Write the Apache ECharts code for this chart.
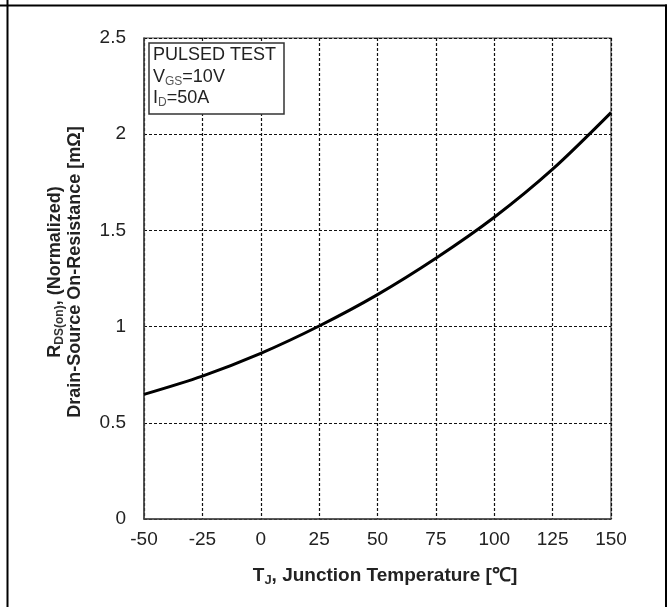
<!DOCTYPE html>
<html>
<head>
<meta charset="utf-8">
<script src="https://cdn.jsdelivr.net/npm/echarts@6/dist/echarts.min.js"></script>
<style>
html,body{margin:0;padding:0;background:#fff;}
#c{width:670px;height:607px;}
</style>
</head>
<body>
<div id="c"></div>
<script>
var temps = [-50, -25, 0, 25, 50, 75, 100, 125, 150];
var rdsNorm = [0.648, 0.743, 0.861, 1.003, 1.166, 1.355, 1.568, 1.818, 2.112];
var xTicks = [-50, -25, 0, 25, 50, 75, 100, 125, 150];
var yTicks = [0, 0.5, 1, 1.5, 2, 2.5];
var noteLines = ['PULSED TEST', 'V{sub|GS}=10V', 'I{sub|D}=50A'];

var FONT = '"Liberation Sans", Arial, sans-serif';
var chart = echarts.init(document.getElementById('c'), null, {renderer: 'canvas'});
var data = temps.map(function (t, i) { return [t, rdsNorm[i]]; });

var option = {
  backgroundColor: '#fff',
  animation: false,
  grid: {left: 144, right: 59, top: 38, bottom: 88, show: true, borderColor: '#444', borderWidth: 1.2, backgroundColor: 'transparent'},
  xAxis: {
    type: 'value', min: xTicks[0], max: xTicks[xTicks.length - 1], interval: 25,
    axisLine: {show: true, onZero: false, lineStyle: {color: '#444', width: 1.5}},
    axisTick: {show: false},
    axisLabel: {color: '#222', fontSize: 19, fontFamily: FONT, margin: 11},
    splitLine: {show: true, lineStyle: {color: '#111', width: 1.2, type: [3, 2]}}
  },
  yAxis: {
    type: 'value', min: yTicks[0], max: yTicks[yTicks.length - 1], interval: 0.5,
    axisLine: {show: true, onZero: false, lineStyle: {color: '#444', width: 1.5}},
    axisTick: {show: false},
    axisLabel: {color: '#222', fontSize: 19, fontFamily: FONT, margin: 18,
      formatter: function (v) { return String(v); }},
    splitLine: {show: true, lineStyle: {color: '#111', width: 1.2, type: [3, 2]}}
  },
  series: [{
    type: 'line', data: data, smooth: 0.3, symbol: 'none',
    lineStyle: {color: '#000', width: 3}, z: 5
  }],
  graphic: [
    {type: 'rect', shape: {x: 149, y: 43, width: 135, height: 71}, style: {fill: '#fff', stroke: '#333', lineWidth: 1.5}, z: 10},
    {type: 'text', x: 153, y: 55, z: 11, style: {text: noteLines[0], font: '18px ' + FONT, fill: '#222', textVerticalAlign: 'middle'}},
    {type: 'text', x: 153, y: 77, z: 11, style: {text: noteLines[1], font: '18px ' + FONT, fill: '#222', textVerticalAlign: 'middle',
      rich: {sub: {fontSize: 12, fontFamily: FONT, fill: '#555', padding: [9, 0, 0, 0]}}}},
    {type: 'text', x: 153, y: 98, z: 11, style: {text: noteLines[2], font: '18px ' + FONT, fill: '#222', textVerticalAlign: 'middle',
      rich: {sub: {fontSize: 12, fontFamily: FONT, fill: '#555', padding: [9, 0, 0, 0]}}}},
    {type: 'text', x: 65, y: 272, rotation: Math.PI / 2, z: 11,
      style: {text: 'R{sub|DS(on)}, (Normalized)\nDrain-Source On-Resistance [mΩ]', font: 'bold 18px ' + FONT, fill: '#222',
        textAlign: 'center', textVerticalAlign: 'middle', lineHeight: 20,
        rich: {sub: {fontSize: 12, fontWeight: 'bold', fontFamily: FONT, fill: '#333', padding: [9, 0, 0, 0]}}}},
    {type: 'text', x: 385, y: 576, z: 11,
      style: {text: 'T{sub|J}, Junction Temperature [℃]', font: 'bold 19px ' + FONT, fill: '#222',
        textAlign: 'center', textVerticalAlign: 'middle',
        rich: {sub: {fontSize: 13, fontWeight: 'bold', fontFamily: FONT, fill: '#333', padding: [9, 0, 0, 0]}}}},
    {type: 'line', shape: {x1: 0, y1: 5.5, x2: 667, y2: 5.5}, style: {stroke: '#000', lineWidth: 2}},
    {type: 'line', shape: {x1: 7.5, y1: 0, x2: 7.5, y2: 607}, style: {stroke: '#000', lineWidth: 2}},
    {type: 'line', shape: {x1: 666, y1: 4.5, x2: 666, y2: 607}, style: {stroke: '#000', lineWidth: 2}}
  ]
};
chart.setOption(option);
</script>
</body>
</html>
